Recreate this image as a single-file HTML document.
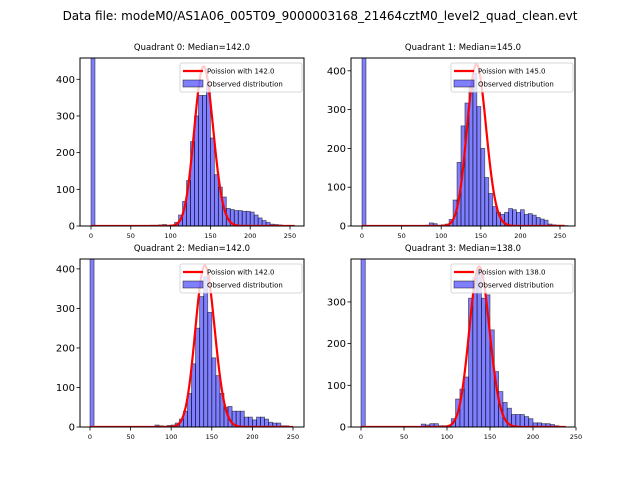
<!DOCTYPE html>
<html><head><meta charset="utf-8"><style>
body{margin:0;background:#fff}
svg{display:block;font-family:"DejaVu Sans","Liberation Sans",sans-serif}
</style></head><body>
<svg id="chart" width="640" height="480" viewBox="0 0 640 480" xmlns="http://www.w3.org/2000/svg">
<rect width="640" height="480" fill="#fff"/>
<text x="320" y="20" font-size="12" text-anchor="middle">Data file: modeM0/AS1A06_005T09_9000003168_21464cztM0_level2_quad_clean.evt</text>
</svg>
<script>
const binStart = 0, binWidth = 5;
const q0Counts = [3000,0,0,0,0,0,0,0,0,0,0,0,0,0,0,2,2,3,4,2,3,10,30,67,124,230,300,356,356,385,240,140,106,79,48,45,42,42,40,40,38,30,22,15,10,5,4,3,1,1,1];
const q1Counts = [3000,0,0,0,0,0,0,0,0,0,0,0,0,0,0,0,2,8,6,2,3,5,17,67,164,258,317,360,394,308,200,125,84,50,35,30,35,45,42,35,42,30,32,28,22,18,15,5,3,2,2,1];
const q2Counts = [3000,0,0,0,0,0,0,0,0,0,0,0,0,0,0,0,5,3,2,4,5,10,20,40,85,160,250,330,380,290,175,130,85,50,52,40,40,40,25,25,18,25,25,20,12,10,10,3,3];
const q3Counts = [3000,0,0,0,0,0,0,0,0,0,0,0,0,0,7,5,8,8,3,3,3,20,67,91,120,309,358,380,309,317,233,133,85,59,45,30,30,30,25,20,10,10,8,8,6,3];
const medians = [142.0,145.0,142.0,138.0];
const curveScale = [13000,12600,12200,11350];
const curveMax = [256,256,250,238];
const yMaxes = [458,433,425,403];
const yTicks = [[0,100,200,300,400],[0,100,200,300,400],[0,100,200,300,400],[0,100,200,300]];
const xTicks = [0,50,100,150,200,250];
const allCounts = [q0Counts,q1Counts,q2Counts,q3Counts];
const panels = [
 {l:80,r:304,t:58,b:226,x0:91,x250:290},
 {l:351,r:575,t:58,b:226,x0:362,x250:560},
 {l:80,r:304,t:259,b:427,x0:90,x250:293},
 {l:351,r:575,t:259,b:427,x0:361,x250:576}
];
const NS="http://www.w3.org/2000/svg";
const svg=document.getElementById('chart');
function mk(tag,attrs,parent){const e=document.createElementNS(NS,tag);for(const k in attrs)e.setAttribute(k,attrs[k]);(parent||svg).appendChild(e);return e;}
function lgamma(z){const c=[76.18009172947146,-86.50532032941677,24.01409824083091,-1.231739572450155,0.1208650973866179e-2,-0.5395239384953e-5];let x=z,y=z,t=x+5.5;t-=(x+0.5)*Math.log(t);let s=1.000000000190015;for(let j=0;j<6;j++)s+=c[j]/++y;return -t+Math.log(2.5066282746310005*s/x);}
function pois(k,mu){return Math.exp(k*Math.log(mu)-mu-lgamma(k+1));}
panels.forEach((p,i)=>{
 const g=mk('g',{});
 
 
 const xs=v=>p.x0+(v)*(p.x250-p.x0)/250;
 const ys=v=>p.b-Math.min(v,yMaxes[i]*1.05)*(p.b-p.t)/yMaxes[i];
 const clipId='clip'+i;
 const cp=mk('clipPath',{id:clipId},g);mk('rect',{x:p.l,y:p.t,width:p.r-p.l,height:p.b-p.t},cp);
 const plot=mk('g',{'clip-path':'url(#'+clipId+')'},g);
 allCounts[i].forEach((c,j)=>{
  if(c<=0)return;
  const x0=xs(binStart+j*binWidth),x1=xs(binStart+(j+1)*binWidth);
  const r=mk('rect',{x:x0,y:ys(c),width:x1-x0,height:p.b-ys(c),fill:'rgba(0,0,255,0.5)',stroke:'rgba(0,0,0,0.55)','stroke-width':0.8},plot);
  
  
 });
 let d='';
 for(let k=0;k<=curveMax[i];k++){d+=(k?'L':'M')+xs(k).toFixed(2)+','+ys(curveScale[i]*pois(k,medians[i])).toFixed(2);}
 const pl=mk('path',{d:d,fill:'none',stroke:'#f00','stroke-width':2.2,'stroke-linejoin':'round'},plot);
 
 
 mk('rect',{x:p.l,y:p.t,width:p.r-p.l,height:p.b-p.t,fill:'none',stroke:'#000','stroke-width':1},g);
 xTicks.forEach(v=>{const x=xs(v);if(x>p.r+1)return;mk('line',{x1:x,x2:x,y1:p.b,y2:p.b+3.5,stroke:'#000','stroke-width':0.8},g);
  const t=mk('text',{x:x,y:p.b+12,'font-size':6.5,'text-anchor':'middle'},g);t.textContent=v;
  });
 yTicks[i].forEach(v=>{const y=ys(v);mk('line',{x1:p.l-3.5,x2:p.l,y1:y,y2:y,stroke:'#000','stroke-width':0.8},g);
  const t=mk('text',{x:p.l-5,y:y+3.5,'font-size':10,'text-anchor':'end'},g);t.textContent=v;
  });
 const tt=mk('text',{x:(p.l+p.r)/2,y:p.t-8,'font-size':8.5,'text-anchor':'middle'},g);
 tt.textContent='Quadrant '+i+': Median='+medians[i].toFixed(1);
 
 const lg=mk('g',{},g);
 
 const lx=p.r-124,ly=p.t+5;
 mk('rect',{x:lx,y:ly,width:122,height:29,rx:2,fill:'rgba(255,255,255,0.8)',stroke:'#ccc','stroke-width':0.8},lg);
 mk('line',{x1:lx+3,x2:lx+23,y1:ly+8,y2:ly+8,stroke:'#f00','stroke-width':2.2},lg);
 mk('rect',{x:lx+3,y:ly+17,width:20,height:7,fill:'rgba(0,0,255,0.5)',stroke:'rgba(0,0,0,0.55)','stroke-width':0.8},lg);
 const l1=mk('text',{x:lx+27,y:ly+10.5,'font-size':7},lg);l1.textContent='Poission with '+medians[i].toFixed(1);
 const l2=mk('text',{x:lx+27,y:ly+23.5,'font-size':7},lg);l2.textContent='Observed distribution';
});
</script>
</body></html>
